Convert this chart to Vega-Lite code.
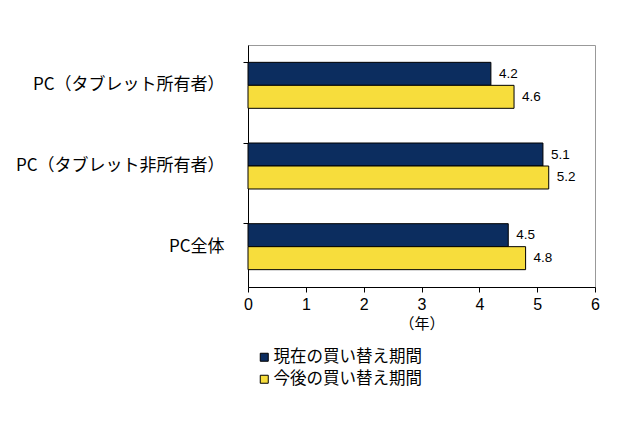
{
  "$schema": "https://vega.github.io/schema/vega-lite/v6.json",
  "width": 347,
  "height": 242,
  "autosize": {"type": "none"},
  "padding": {"left": 248, "top": 45, "right": 45, "bottom": 139},
  "background": "white",
  "config": {
    "font": "Noto Sans CJK JP",
    "view": {"stroke": "#999999", "strokeWidth": 1}
  },
  "data": {
    "values": [
      {"cat": "PC（タブレット所有者）", "series": "現在の買い替え期間", "value": 4.2},
      {"cat": "PC（タブレット所有者）", "series": "今後の買い替え期間", "value": 4.6},
      {"cat": "PC（タブレット非所有者）", "series": "現在の買い替え期間", "value": 5.1},
      {"cat": "PC（タブレット非所有者）", "series": "今後の買い替え期間", "value": 5.2},
      {"cat": "PC全体", "series": "現在の買い替え期間", "value": 4.5},
      {"cat": "PC全体", "series": "今後の買い替え期間", "value": 4.8}
    ]
  },
  "encoding": {
    "y": {
      "field": "cat",
      "type": "nominal",
      "sort": null,
      "scale": {"paddingInner": 0.43, "paddingOuter": 0.215},
      "axis": {
        "title": null,
        "bandPosition": 0,
        "domainColor": "black",
        "tickColor": "black",
        "tickSize": 5,
        "labelFontSize": 17,
        "labelColor": "black",
        "labelPadding": 19,
        "labelLimit": 300,
        "labelFont": "Noto Sans CJK JP"
      }
    },
    "yOffset": {
      "field": "series",
      "type": "nominal",
      "sort": ["現在の買い替え期間", "今後の買い替え期間"]
    },
    "x": {
      "field": "value",
      "type": "quantitative",
      "scale": {"domain": [0, 6]},
      "axis": {
        "title": "（年）",
        "titleFontSize": 15,
        "titleFontWeight": "normal",
        "titleColor": "black",
        "titlePadding": 4,
        "values": [0, 1, 2, 3, 4, 5, 6],
        "labelOverlap": false,
        "labelFlush": false,
        "grid": false,
        "domainColor": "black",
        "tickColor": "black",
        "tickSize": 5,
        "labelFontSize": 16,
        "labelColor": "black",
        "labelPadding": 4,
        "labelFont": "Liberation Sans"
      }
    }
  },
  "layer": [
    {
      "mark": {"type": "bar", "stroke": "black", "strokeWidth": 1},
      "encoding": {
        "color": {
          "field": "series",
          "type": "nominal",
          "sort": ["現在の買い替え期間", "今後の買い替え期間"],
          "scale": {
            "domain": ["現在の買い替え期間", "今後の買い替え期間"],
            "range": ["#0c2d5f", "#f7dd3c"]
          },
          "legend": {
            "title": null,
            "orient": "none",
            "legendX": 8,
            "legendY": 304,
            "symbolType": "square",
            "symbolSize": 64,
            "symbolStrokeColor": "black",
            "symbolStrokeWidth": 1,
            "labelFontSize": 16.5,
            "labelColor": "black",
            "labelOffset": 1,
            "rowPadding": 5,
            "labelFont": "Noto Sans CJK JP"
          }
        }
      }
    },
    {
      "mark": {"type": "text", "align": "left", "dx": 8, "fontSize": 13.5, "color": "black", "font": "Liberation Sans"},
      "encoding": {
        "text": {"field": "value", "type": "quantitative", "format": ".1f"}
      }
    }
  ]
}
